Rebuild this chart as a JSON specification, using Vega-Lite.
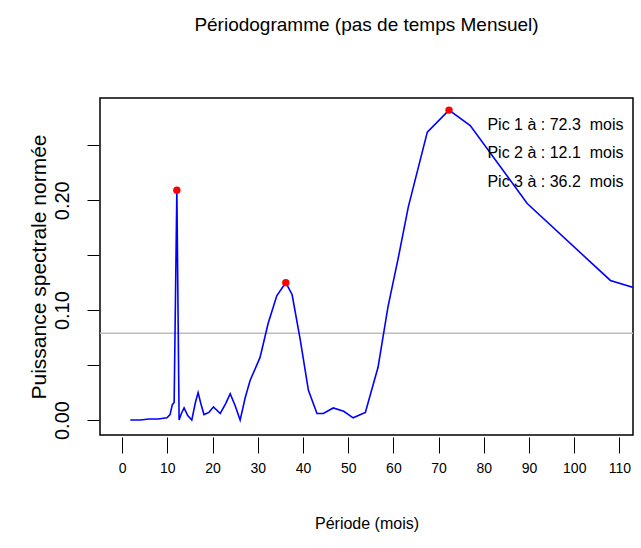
{
  "$schema": "https://vega.github.io/schema/vega-lite/v6.json",
  "autosize": {"type": "none"},
  "width": 533,
  "height": 337,
  "padding": {"left": 100, "top": 98, "right": 8, "bottom": 113},
  "background": "white",
  "config": {
    "font": "Liberation Sans",
    "view": {"stroke": "black", "strokeWidth": 1.5}
  },
  "title": {
    "text": "Périodogramme (pas de temps Mensuel)",
    "fontSize": 19,
    "fontWeight": "normal",
    "color": "black",
    "anchor": "middle",
    "offset": 63
  },
  "datasets": {
    "spec": [
      {"periode": 1.8, "puissance": 0.0},
      {"periode": 4.0, "puissance": 0.0},
      {"periode": 6.0, "puissance": 0.001},
      {"periode": 8.0, "puissance": 0.001},
      {"periode": 9.9, "puissance": 0.002},
      {"periode": 10.6, "puissance": 0.005},
      {"periode": 11.1, "puissance": 0.014},
      {"periode": 11.5, "puissance": 0.016},
      {"periode": 12.1, "puissance": 0.209},
      {"periode": 12.6, "puissance": 0.0},
      {"periode": 13.1, "puissance": 0.006},
      {"periode": 13.7, "puissance": 0.011},
      {"periode": 14.5, "puissance": 0.004},
      {"periode": 15.4, "puissance": 0.0},
      {"periode": 16.2, "puissance": 0.016},
      {"periode": 16.8, "puissance": 0.025},
      {"periode": 17.4, "puissance": 0.015},
      {"periode": 18.1, "puissance": 0.005},
      {"periode": 19.2, "puissance": 0.007},
      {"periode": 20.2, "puissance": 0.012},
      {"periode": 21.7, "puissance": 0.006},
      {"periode": 22.9, "puissance": 0.015},
      {"periode": 23.9, "puissance": 0.024},
      {"periode": 25.0, "puissance": 0.013},
      {"periode": 26.1, "puissance": 0.0},
      {"periode": 27.2, "puissance": 0.02},
      {"periode": 28.3, "puissance": 0.036},
      {"periode": 30.5, "puissance": 0.057},
      {"periode": 32.3, "puissance": 0.088},
      {"periode": 34.2, "puissance": 0.113},
      {"periode": 36.2, "puissance": 0.125},
      {"periode": 37.6, "puissance": 0.114},
      {"periode": 39.4, "puissance": 0.073},
      {"periode": 41.2, "puissance": 0.027},
      {"periode": 43.1, "puissance": 0.006},
      {"periode": 44.5, "puissance": 0.006},
      {"periode": 46.7, "puissance": 0.011},
      {"periode": 49.0, "puissance": 0.008},
      {"periode": 51.1, "puissance": 0.002},
      {"periode": 53.8, "puissance": 0.007},
      {"periode": 56.6, "puissance": 0.048},
      {"periode": 58.8, "puissance": 0.103},
      {"periode": 61.1, "puissance": 0.148},
      {"periode": 63.3, "puissance": 0.194},
      {"periode": 67.5, "puissance": 0.262},
      {"periode": 72.3, "puissance": 0.282},
      {"periode": 77.0, "puissance": 0.268},
      {"periode": 89.6, "puissance": 0.197},
      {"periode": 108.0, "puissance": 0.127},
      {"periode": 113.5, "puissance": 0.12}
    ],
    "pics": [
      {"periode": 72.3, "puissance": 0.282},
      {"periode": 12.1, "puissance": 0.209},
      {"periode": 36.2, "puissance": 0.125}
    ],
    "seuil": [{"seuil": 0.079}],
    "legende": [
      {"texte": "Pic 1 à : 72.3 \u00a0mois", "px": 80.8, "py": 0.268},
      {"texte": "Pic 2 à : 12.1 \u00a0mois", "px": 80.8, "py": 0.243},
      {"texte": "Pic 3 à : 36.2 \u00a0mois", "px": 80.8, "py": 0.217}
    ]
  },
  "layer": [
    {
      "data": {"name": "seuil"},
      "mark": {"type": "rule", "color": "#bdbdbd", "strokeWidth": 1.5},
      "encoding": {
        "y": {"field": "seuil", "type": "quantitative", "scale": {"domain": [-0.0136, 0.293], "nice": false, "zero": false}}
      }
    },
    {
      "data": {"name": "spec"},
      "mark": {"type": "line", "color": "#0000ff", "strokeWidth": 1.6, "clip": true},
      "encoding": {
        "x": {
          "field": "periode", "type": "quantitative",
          "scale": {"domain": [-4.9, 113], "nice": false, "zero": false},
          "axis": {
            "values": [0, 10, 20, 30, 40, 50, 60, 70, 80, 90, 100, 110],
            "title": "Période (mois)",
            "domain": false,
            "grid": false,
            "offset": 2,
            "tickSize": 16,
            "tickColor": "black",
            "tickWidth": 1,
            "labelPadding": 8,
            "labelFontSize": 14,
            "labelColor": "black",
            "titleFontSize": 16,
            "titleFontWeight": "normal",
            "titleColor": "black",
            "titlePadding": 40
          }
        },
        "y": {
          "field": "puissance", "type": "quantitative",
          "scale": {"domain": [-0.0136, 0.293], "nice": false, "zero": false},
          "axis": {
            "values": [0, 0.05, 0.1, 0.15, 0.2, 0.25],
            "labelExpr": "round(datum.value*100) % 10 === 0 ? format(datum.value, '.2f') : ''",
            "title": "Puissance spectrale normée",
            "domain": false,
            "grid": false,
            "offset": 1,
            "tickSize": 12,
            "tickColor": "black",
            "tickWidth": 1,
            "labelAngle": -90,
            "labelAlign": "center",
            "labelBaseline": "bottom",
            "labelPadding": 15,
            "labelFontSize": 20,
            "labelColor": "black",
            "titleFontSize": 21,
            "titleFontWeight": "normal",
            "titleColor": "black",
            "titlePadding": 3
          }
        }
      }
    },
    {
      "data": {"name": "pics"},
      "mark": {"type": "point", "filled": true, "color": "red", "size": 55, "opacity": 1},
      "encoding": {
        "x": {"field": "periode", "type": "quantitative"},
        "y": {"field": "puissance", "type": "quantitative"}
      }
    },
    {
      "data": {"name": "legende"},
      "mark": {"type": "text", "align": "left", "baseline": "middle", "fontSize": 16, "color": "black"},
      "encoding": {
        "x": {"field": "px", "type": "quantitative"},
        "y": {"field": "py", "type": "quantitative"},
        "text": {"field": "texte"}
      }
    }
  ]
}
